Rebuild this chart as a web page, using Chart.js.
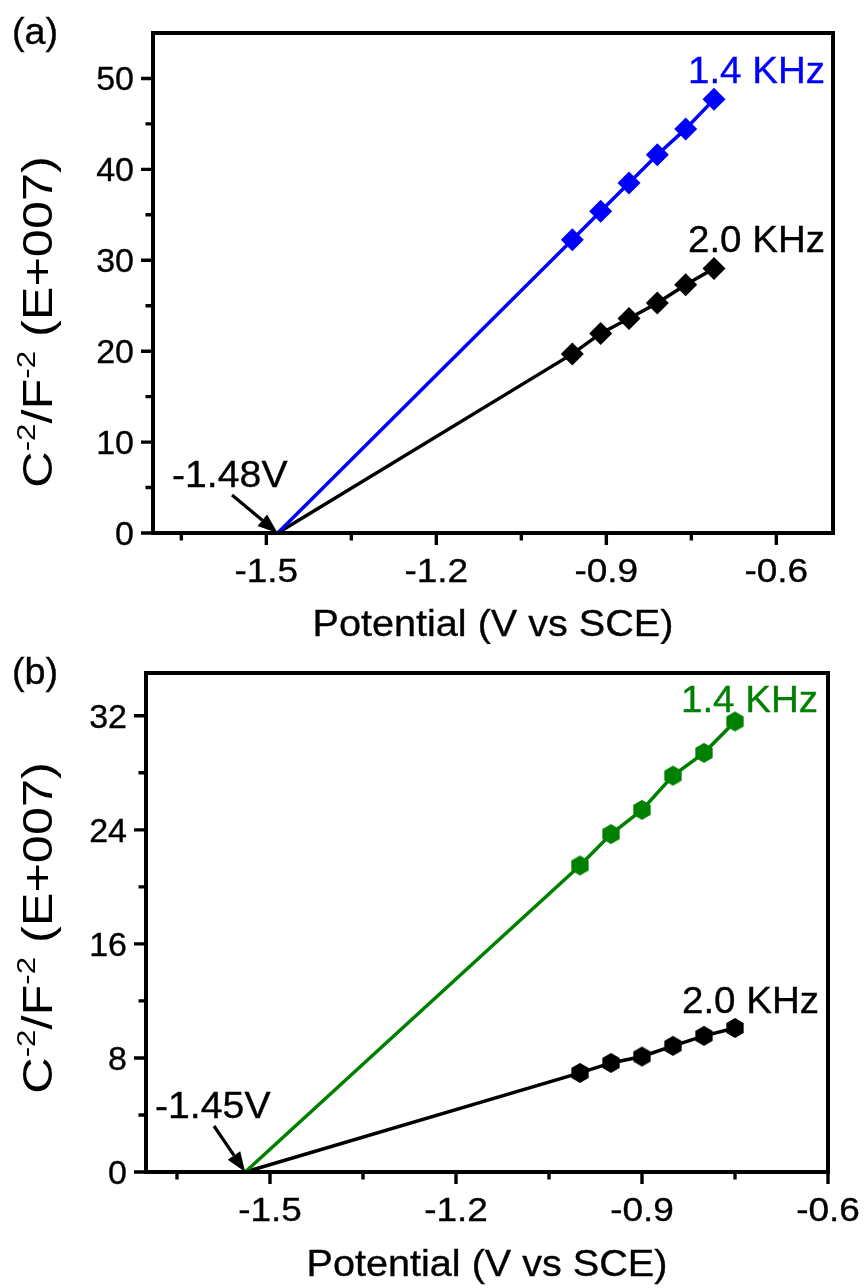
<!DOCTYPE html>
<html>
<head>
<meta charset="utf-8">
<script src="https://cdn.jsdelivr.net/npm/chart.js@4/dist/chart.umd.min.js"></script>
<style>
  html, body { margin: 0; padding: 0; background: #fff; }
  .panel { width: 866px; height: 644px; }
  canvas { display: block; }
</style>
</head>
<body>
<div class="panel"><canvas id="panelA" width="866" height="644"></canvas></div>
<div class="panel"><canvas id="panelB" width="866" height="644"></canvas></div>
<script>
// (a) Mott-Schottky points, C^-2/F^-2 in units of 1e7
const potentialA = [-0.96, -0.91, -0.86, -0.81, -0.76, -0.71];
const invCap14A = [32.25, 35.4, 38.5, 41.6, 44.45, 47.7];
const invCap20A = [19.7, 21.95, 23.6, 25.3, 27.3, 29.1];
const flatBandA = -1.48;

// (b)
const potentialB = [-1.0, -0.95, -0.9, -0.85, -0.8, -0.75];
const invCap14B = [21.5, 23.7, 25.4, 27.8, 29.4, 31.6];
const invCap20B = [6.95, 7.65, 8.1, 8.85, 9.55, 10.1];
const flatBandB = -1.54;

const xMajorTicks = [-1.5, -1.2, -0.9, -0.6];
const xMinorTicks = [-1.65, -1.35, -1.05, -0.75];
const xTickLabels = ['-1.5', '-1.2', '-0.9', '-0.6'];
const yMajorTicksA = [0, 10, 20, 30, 40, 50];
const yMinorTicksA = [5, 15, 25, 35, 45];
const yMajorTicksB = [0, 8, 16, 24, 32];
const yMinorTicksB = [4, 12, 20, 28];

const FONT = '"Liberation Sans", Arial, sans-serif';

// line starts at the flat-band potential on the x axis, then runs through the points
function series(xs, ys, x0) {
  return [{ x: x0, y: 0 }].concat(xs.map((x, i) => ({ x: x, y: ys[i] })));
}

function hexMarker(color, r) {
  const s = Math.ceil(r * 2 + 2);
  const c = document.createElement('canvas');
  c.width = s; c.height = s;
  const g = c.getContext('2d');
  g.fillStyle = color;
  g.beginPath();
  for (let k = 0; k < 6; k++) {
    const t = Math.PI / 2 + k * Math.PI / 3;
    const px = s / 2 + r * Math.cos(t), py = s / 2 - r * Math.sin(t);
    if (k) g.lineTo(px, py); else g.moveTo(px, py);
  }
  g.closePath();
  g.fill();
  return c;
}

function text(ctx, str, x, y, size, opt) {
  opt = opt || {};
  const color = opt.color || '#000';
  ctx.save();
  ctx.font = size + 'px ' + FONT;
  ctx.fillStyle = color;
  ctx.strokeStyle = color;
  ctx.lineWidth = 0.35;
  ctx.textBaseline = 'alphabetic';
  const w = ctx.measureText(str).width * (opt.sx || 1);
  let left = x;
  if (opt.align === 'center') left = x - w / 2;
  else if (opt.align === 'right') left = x - w;
  ctx.translate(left, y);
  ctx.scale(opt.sx || 1, 1);
  ctx.textAlign = 'left';
  ctx.fillText(str, 0, 0);
  ctx.strokeText(str, 0, 0);
  ctx.restore();
}

function arrow(ctx, x1, y1, x2, y2) {
  const ang = Math.atan2(y2 - y1, x2 - x1);
  const hl = 20, hw = 7.5;
  const bx = x2 - hl * Math.cos(ang), by = y2 - hl * Math.sin(ang);
  ctx.save();
  ctx.strokeStyle = '#000';
  ctx.fillStyle = '#000';
  ctx.lineWidth = 3.2;
  ctx.beginPath();
  ctx.moveTo(x1, y1);
  ctx.lineTo(bx, by);
  ctx.stroke();
  ctx.beginPath();
  ctx.moveTo(x2, y2);
  ctx.lineTo(bx - hw * Math.sin(ang), by + hw * Math.cos(ang));
  ctx.lineTo(bx + hw * Math.sin(ang), by - hw * Math.cos(ang));
  ctx.closePath();
  ctx.fill();
  ctx.restore();
}

// rotated y title with superscripts: C^-2/F^-2 (E+007)
function yTitle(ctx, cx, cy, size, stretch) {
  const parts = [['C', 0], ['-2', 1], ['/F', 0], ['-2', 1], [' (E+007)', 0]];
  const sup = size * 0.62;
  ctx.save();
  ctx.translate(cx, cy);
  ctx.rotate(-Math.PI / 2);
  ctx.scale(stretch, 1);
  let total = 0;
  const widths = parts.map(p => {
    ctx.font = (p[1] ? sup : size) + 'px ' + FONT;
    const w = ctx.measureText(p[0]).width;
    total += w;
    return w;
  });
  let pos = -total / 2;
  ctx.fillStyle = '#000';
  ctx.textBaseline = 'alphabetic';
  parts.forEach((p, i) => {
    ctx.font = (p[1] ? sup : size) + 'px ' + FONT;
    ctx.fillText(p[0], pos, p[1] ? -size * 0.4 : 0);
    pos += widths[i];
  });
  ctx.restore();
}

// frame, outward ticks, tick labels and annotations
function decor(spec) {
  return {
    id: 'decor',
    afterDraw(chart) {
      const { ctx, chartArea: a, scales } = chart;
      const x = scales.x, y = scales.y;
      ctx.save();
      ctx.strokeStyle = '#000';
      ctx.lineWidth = 3.4;
      ctx.lineCap = 'butt';
      ctx.beginPath();
      xMajorTicks.forEach(v => { const p = x.getPixelForValue(v); ctx.moveTo(p, a.bottom); ctx.lineTo(p, a.bottom + 12); });
      xMinorTicks.forEach(v => { const p = x.getPixelForValue(v); ctx.moveTo(p, a.bottom); ctx.lineTo(p, a.bottom + 7.5); });
      spec.yMajor.forEach(v => { const p = y.getPixelForValue(v); ctx.moveTo(a.left, p); ctx.lineTo(a.left - 12, p); });
      spec.yMinor.forEach(v => { const p = y.getPixelForValue(v); ctx.moveTo(a.left, p); ctx.lineTo(a.left - 7.5, p); });
      ctx.stroke();
      ctx.lineWidth = 4;
      ctx.strokeRect(a.left, a.top, a.right - a.left, a.bottom - a.top);
      ctx.restore();

      xMajorTicks.forEach((v, i) => {
        text(ctx, xTickLabels[i], x.getPixelForValue(v), a.bottom + 49, 33, { align: 'center', sx: 1.12 });
      });
      spec.yMajor.forEach(v => {
        text(ctx, String(v), a.left - 19, y.getPixelForValue(v) + 12, 33, { align: 'right', sx: 1.03 });
      });

      text(ctx, spec.tag, 12, spec.tagY, 36, { sx: 1.05 });
      text(ctx, '1.4 KHz', spec.hiX, spec.hiY, 36, { align: 'right', color: spec.hiColor, sx: 1.07 });
      text(ctx, '2.0 KHz', spec.loX, spec.loY, 36, { align: 'right', sx: 1.07 });
      text(ctx, spec.fb, spec.fbX, spec.fbY, 37, { sx: 1.06 });
      const tipX = x.getPixelForValue(spec.flatBand);
      arrow(ctx, spec.arX, spec.arY, tipX, a.bottom);
      text(ctx, 'Potential (V vs SCE)', (a.left + a.right) / 2, spec.xtY, 36, { align: 'center', sx: 1.1 });
      yTitle(ctx, 52, spec.ytY, 42, 1.2);
    }
  };
}

function panel(id, p) {
  const ds = (pts, color, style, r) => ({
    data: pts,
    showLine: true,
    borderColor: color,
    backgroundColor: color,
    borderWidth: 3.5,
    pointStyle: style,
    pointRadius: c => (c.dataIndex === 0 ? 0 : r),
    pointBorderWidth: 0,
    pointHoverRadius: c => (c.dataIndex === 0 ? 0 : r),
    clip: false
  });
  return new Chart(document.getElementById(id), {
    type: 'scatter',
    data: {
      datasets: [
        ds(p.hi, p.hiColor, p.hiStyle, p.r),
        ds(p.lo, '#000', p.loStyle, p.r)
      ]
    },
    options: {
      responsive: false,
      animation: false,
      devicePixelRatio: 1,
      layout: { padding: p.pad },
      plugins: { legend: { display: false }, tooltip: { enabled: false } },
      scales: {
        x: { type: 'linear', display: false, min: p.xMin, max: p.xMax },
        y: { type: 'linear', display: false, min: 0, max: p.yMax }
      }
    },
    plugins: [decor(p.spec)]
  });
}

panel('panelA', {
  hi: series(potentialA, invCap14A, flatBandA),
  lo: series(potentialA, invCap20A, flatBandA),
  hiColor: '#0000ff', hiStyle: 'rectRot', loStyle: 'rectRot', r: 11.5,
  xMin: -1.7, xMax: -0.5, yMax: 55,
  pad: { left: 153, top: 33, right: 33, bottom: 111 },
  spec: {
    yMajor: yMajorTicksA, yMinor: yMinorTicksA, tag: '(a)', tagY: 44,
    hiX: 825, hiY: 83, hiColor: '#0000ff', loX: 825, loY: 252,
    fb: '-1.48V', fbX: 172, fbY: 487, flatBand: flatBandA, arX: 232, arY: 495,
    xtY: 636, ytY: 322
  }
});

panel('panelB', {
  hi: series(potentialB, invCap14B, flatBandB),
  lo: series(potentialB, invCap20B, flatBandB),
  hiColor: '#008000', hiStyle: hexMarker('#008000', 10), loStyle: hexMarker('#000', 10), r: 10,
  xMin: -1.7, xMax: -0.6, yMax: 35,
  pad: { left: 146, top: 29, right: 38, bottom: 116 },
  spec: {
    yMajor: yMajorTicksB, yMinor: yMinorTicksB, tag: '(b)', tagY: 40,
    hiX: 818, hiY: 68, hiColor: '#008000', loX: 819, loY: 369,
    fb: '-1.45V', fbX: 155, fbY: 474, flatBand: flatBandB, arX: 214, arY: 482,
    xtY: 632, ytY: 284
  }
});
</script>
</body>
</html>
